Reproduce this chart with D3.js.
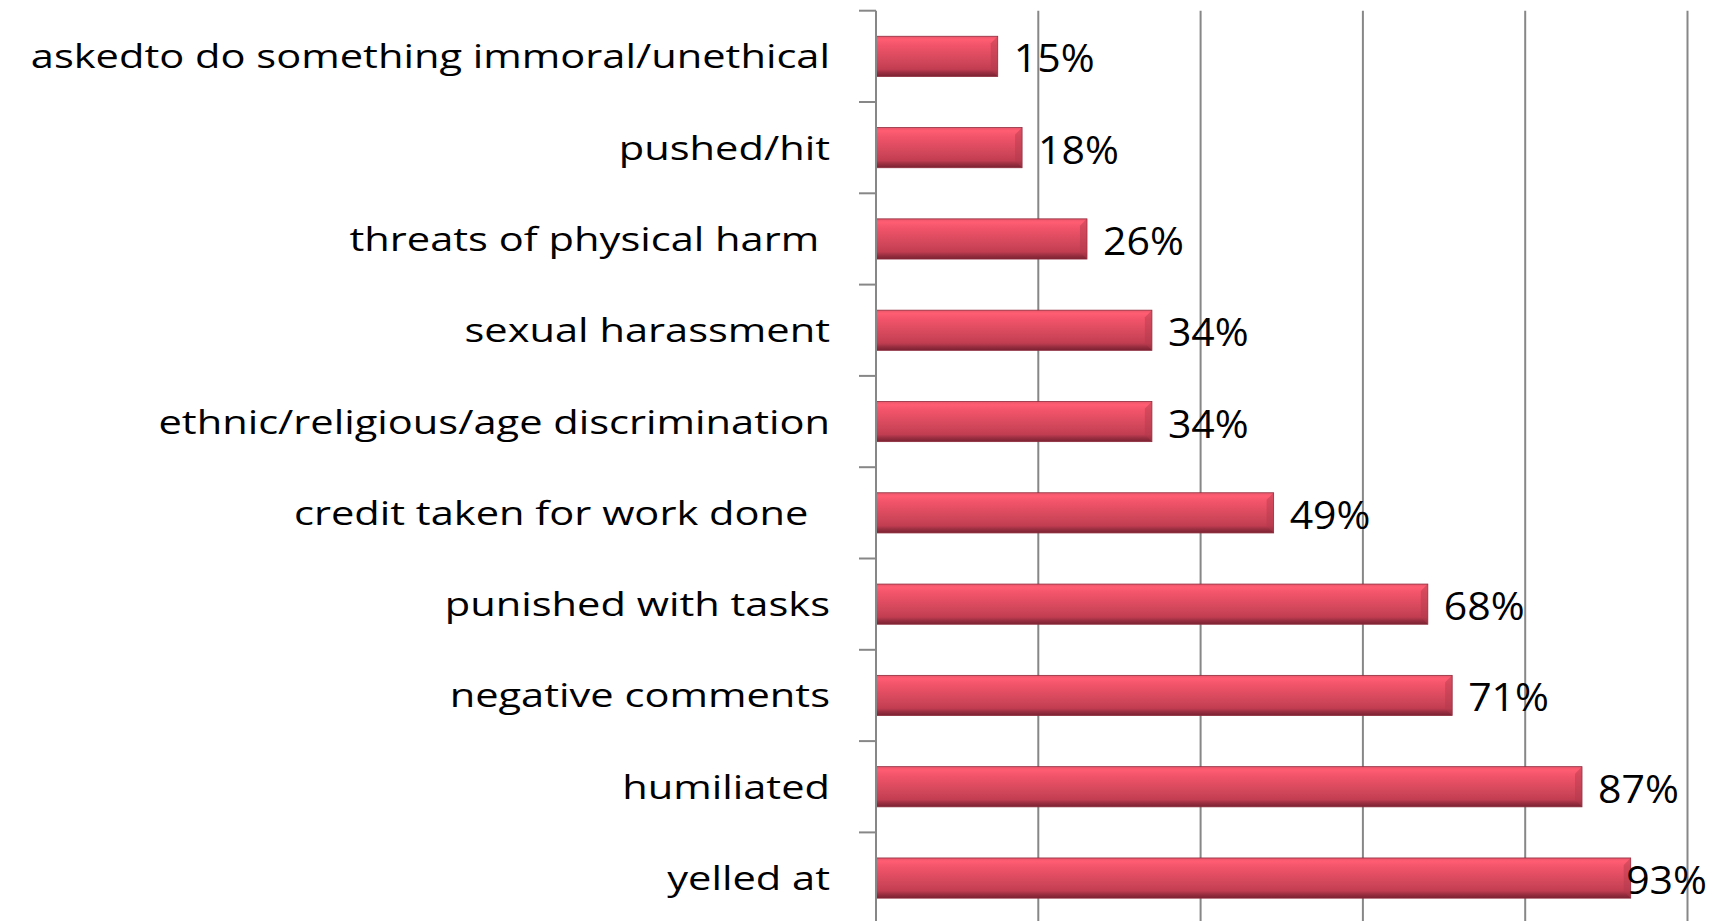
<!DOCTYPE html>
<html>
<head>
<meta charset="utf-8">
<script src="https://d3js.org/d3.v7.min.js"></script>
<style>
  html, body { margin: 0; padding: 0; background: #fff; overflow: hidden; }
  svg { display: block; }
</style>
</head>
<body>
<svg></svg>
<script>
// data, top to bottom
var categories = [
    "askedto do something immoral/unethical",
    "pushed/hit",
    "threats of physical harm ",
    "sexual harassment",
    "ethnic/religious/age discrimination",
    "credit taken for work done  ",
    "punished with tasks",
    "negative comments",
    "humiliated",
    "yelled at"
]
var values = [15, 18, 26, 34, 34, 49, 68, 71, 87, 93]
var labels = ["15%", "18%", "26%", "34%", "34%", "49%", "68%", "71%", "87%", "93%"]
var gridTicks = [0, 20, 40, 60, 80, 100]

var width = 1719, height = 921

var svg = d3.select("svg").attr("width", width).attr("height", height)

var x = d3.scaleLinear().domain([0, 100]).range([876, 1687.5])
var y = d3.scaleBand().domain(categories).range([10.7, 923.7])
    .paddingInner(0.56).paddingOuter(0.28)

// bar gradient
var defs = svg.append("defs")
var grad = defs.append("linearGradient").attr("id", "barGrad")
    .attr("x1", 0).attr("y1", 0).attr("x2", 0).attr("y2", 1)
grad.append("stop").attr("offset", "0%").attr("stop-color", "#e9566a")
grad.append("stop").attr("offset", "8%").attr("stop-color", "#ff5d72")
grad.append("stop").attr("offset", "22%").attr("stop-color", "#f2546a")
grad.append("stop").attr("offset", "60%").attr("stop-color", "#d3475b")
grad.append("stop").attr("offset", "82%").attr("stop-color", "#c23d51")
grad.append("stop").attr("offset", "90%").attr("stop-color", "#9c3042")
grad.append("stop").attr("offset", "100%").attr("stop-color", "#7a2131")

var gridColor = "#878787"

// gridlines
svg.append("g").selectAll("line")
    .data(gridTicks.slice(1))
    .enter().append("line")
    .attr("x1", d => x(d)).attr("x2", d => x(d))
    .attr("y1", y.range()[0]).attr("y2", height)
    .attr("stroke", gridColor).attr("stroke-width", 2)

// bars
svg.append("g").selectAll("rect")
    .data(values)
    .enter().append("rect")
    .attr("x", x(0))
    .attr("y", (d, i) => y(categories[i]))
    .attr("width", d => x(d) - x(0))
    .attr("height", y.bandwidth())
    .attr("fill", "url(#barGrad)")
    .attr("stroke", "#8e2b3c").attr("stroke-width", 0.8)

// small bevel on the right end of each bar
svg.append("g").selectAll("path")
    .data(values)
    .enter().append("path")
    .attr("d", (d, i) => {
        var x1 = x(d), y0 = y(categories[i]), h = y.bandwidth(), b = 7
        return "M" + x1 + "," + y0 + "L" + (x1 - b) + "," + (y0 + b) +
               "L" + (x1 - b) + "," + (y0 + h - b) + "L" + x1 + "," + (y0 + h) + "Z"
    })
    .attr("fill", "#b23a4c").attr("opacity", 0.45)

// vertical axis line and ticks
var step = y.step()
var tickYs = d3.range(categories.length + 1).map(k => y.range()[0] + k * step)
svg.append("line")
    .attr("x1", x(0)).attr("x2", x(0))
    .attr("y1", y.range()[0]).attr("y2", height)
    .attr("stroke", gridColor).attr("stroke-width", 2)
svg.append("g").selectAll("line")
    .data(tickYs)
    .enter().append("line")
    .attr("x1", x(0) - 17).attr("x2", x(0))
    .attr("y1", d => d).attr("y2", d => d)
    .attr("stroke", gridColor).attr("stroke-width", 2)

// category labels
svg.append("g").selectAll("text")
    .data(categories)
    .enter().append("text")
    .attr("transform", d => "translate(830," + (y(d) + y.bandwidth() / 2 + 12) + ") scale(1.3,1)")
    .attr("text-anchor", "end")
    .style("white-space", "pre")
    .attr("font-family", "'Open Sans', sans-serif")
    .attr("font-size", "32px")
    .attr("fill", "#000")
    .text(d => d)

// value labels (pushed back inside the page if they would run off the right edge)
var sx = 1.08
svg.append("g").selectAll("text")
    .data(values)
    .enter().append("text")
    .attr("font-family", "'Open Sans', sans-serif")
    .attr("font-size", "38px")
    .attr("fill", "#000")
    .text((d, i) => labels[i])
    .attr("transform", function(d, i) {
        var w = this.getComputedTextLength() * sx
        var lx = Math.min(x(d) + 16, width - 12 - w)
        return "translate(" + lx + "," + (y(categories[i]) + y.bandwidth() / 2 + 16) + ") scale(" + sx + ",1)"
    })
</script>
</body>
</html>
